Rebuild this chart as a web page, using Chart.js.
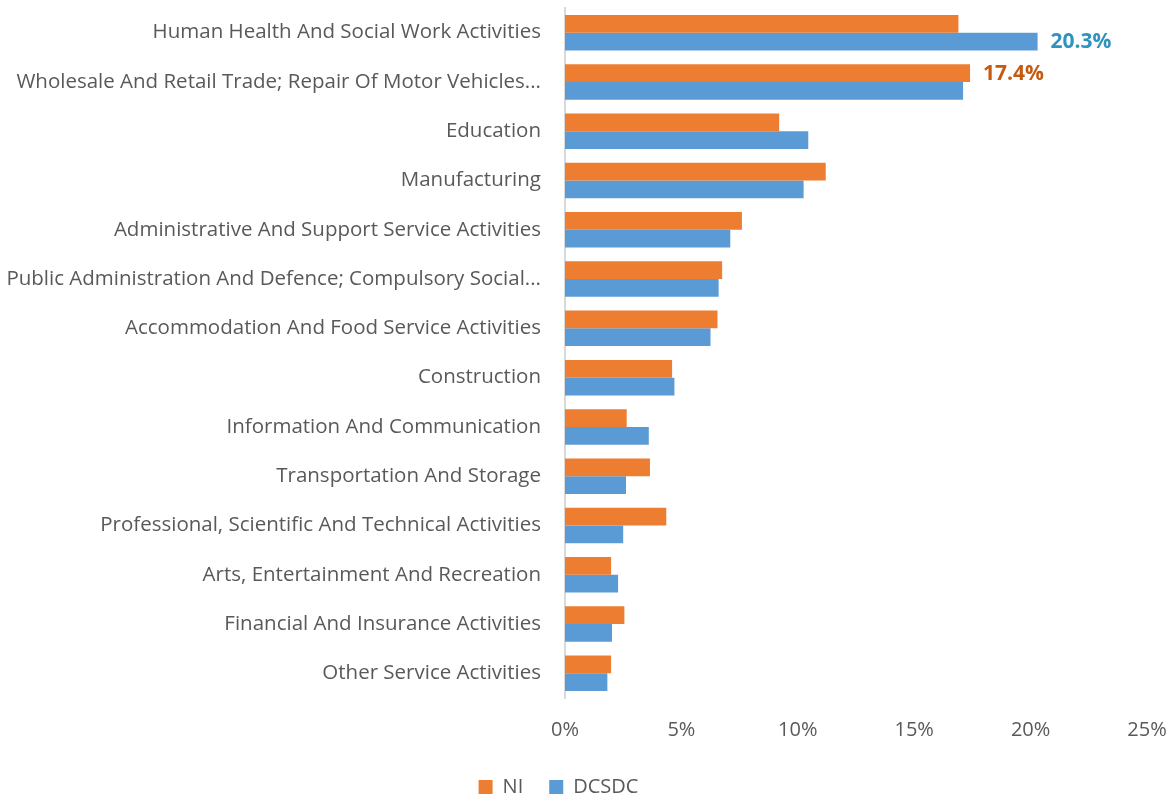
<!DOCTYPE html>
<html>
<head>
<meta charset="utf-8">
<script src="https://cdn.jsdelivr.net/npm/chart.js@4/dist/chart.umd.min.js"></script>
<style>
  html, body { margin: 0; padding: 0; background: #fff; }
  #wrap { width: 1176px; height: 798px; position: relative; }
</style>
</head>
<body>
<div id="wrap"><canvas id="myChart"></canvas></div>
<script>
// categories (top to bottom)
const categories = [
  'Human Health And Social Work Activities',
  'Wholesale And Retail Trade; Repair Of Motor Vehicles...',
  'Education',
  'Manufacturing',
  'Administrative And Support Service Activities',
  'Public Administration And Defence; Compulsory Social...',
  'Accommodation And Food Service Activities',
  'Construction',
  'Information And Communication',
  'Transportation And Storage',
  'Professional, Scientific And Technical Activities',
  'Arts, Entertainment And Recreation',
  'Financial And Insurance Activities',
  'Other Service Activities'
];

// share of employment, percent
const niValues    = [16.9, 17.4, 9.2, 11.2, 7.6, 6.75, 6.55, 4.6, 2.65, 3.65, 4.35, 1.98, 2.55, 1.98];
const dcsdcValues = [20.3, 17.1, 10.45, 10.25, 7.1, 6.6, 6.25, 4.7, 3.6, 2.62, 2.5, 2.28, 2.02, 1.82];

const xTicks = [0, 5, 10, 15, 20, 25];

// only two bars carry a value label
const niLabels    = ['', '17.4%', '', '', '', '', '', '', '', '', '', '', '', ''];
const dcsdcLabels = ['20.3%', '', '', '', '', '', '', '', '', '', '', '', '', ''];

const labelPlugin = {
  id: 'valueLabels',
  afterLayout(chart) {
    // legend sits a bit left of the canvas centre
    chart.legend.left -= 15;
    chart.legend.right -= 15;
  },
  afterDatasetsDraw(chart) {
    const ctx = chart.ctx;
    const sets = [
      { idx: 0, labels: niLabels, color: '#C55A11' },
      { idx: 1, labels: dcsdcLabels, color: '#2E93BF' }
    ];
    ctx.save();
    ctx.font = 'bold 21px "Open Sans", sans-serif';
    ctx.textBaseline = 'middle';
    ctx.textAlign = 'left';
    sets.forEach(s => {
      const meta = chart.getDatasetMeta(s.idx);
      meta.data.forEach((bar, i) => {
        if (!s.labels[i]) return;
        ctx.fillStyle = s.color;
        ctx.fillText(s.labels[i], bar.x + 13, bar.y + 1);
      });
    });
    ctx.restore();
  }
};

const config = {
  type: 'bar',
  data: {
    labels: categories,
    datasets: [
      { label: 'NI', data: niValues, backgroundColor: '#ED7D31', categoryPercentage: 0.72, barPercentage: 1.0 },
      { label: 'DCSDC', data: dcsdcValues, backgroundColor: '#5B9BD5', categoryPercentage: 0.72, barPercentage: 1.0 }
    ]
  },
  options: {
    indexAxis: 'y',
    responsive: true,
    maintainAspectRatio: false,
    animation: false,
    layout: { padding: { top: 8, right: 29, left: 0, bottom: -9 } },
    scales: {
      x: {
        min: 0,
        max: 25,
        afterBuildTicks(scale) { scale.ticks = xTicks.map(v => ({ value: v })); },
        grid: { display: false },
        border: { display: false },
        ticks: {
          color: '#595959',
          font: { family: '"Open Sans", sans-serif', size: 20 },
          padding: 12,
          callback: v => v + '%'
        },
        afterFit(scale) {
          scale.height = 53;
          scale.paddingLeft = 0;
          scale.paddingRight = 0;
        }
      },
      y: {
        grid: { display: false },
        border: { display: true, color: '#D9D9D9', width: 2 },
        ticks: {
          color: '#595959',
          font: { family: '"Open Sans", sans-serif', size: 20.5 },
          padding: 16,
          autoSkip: false
        },
        afterFit(scale) {
          scale.width = 565;
          scale.paddingTop = 0;
          scale.paddingBottom = 0;
        }
      }
    },
    plugins: {
      legend: {
        position: 'bottom',
        labels: {
          color: '#595959',
          font: { family: '"Open Sans", sans-serif', size: 20 },
          boxWidth: 14,
          boxHeight: 14,
          padding: 26
        }
      },
      tooltip: { enabled: false }
    }
  },
  plugins: [labelPlugin]
};

const ctx = document.querySelector('#myChart').getContext('2d');
new Chart(ctx, config);
</script>
</body>
</html>
